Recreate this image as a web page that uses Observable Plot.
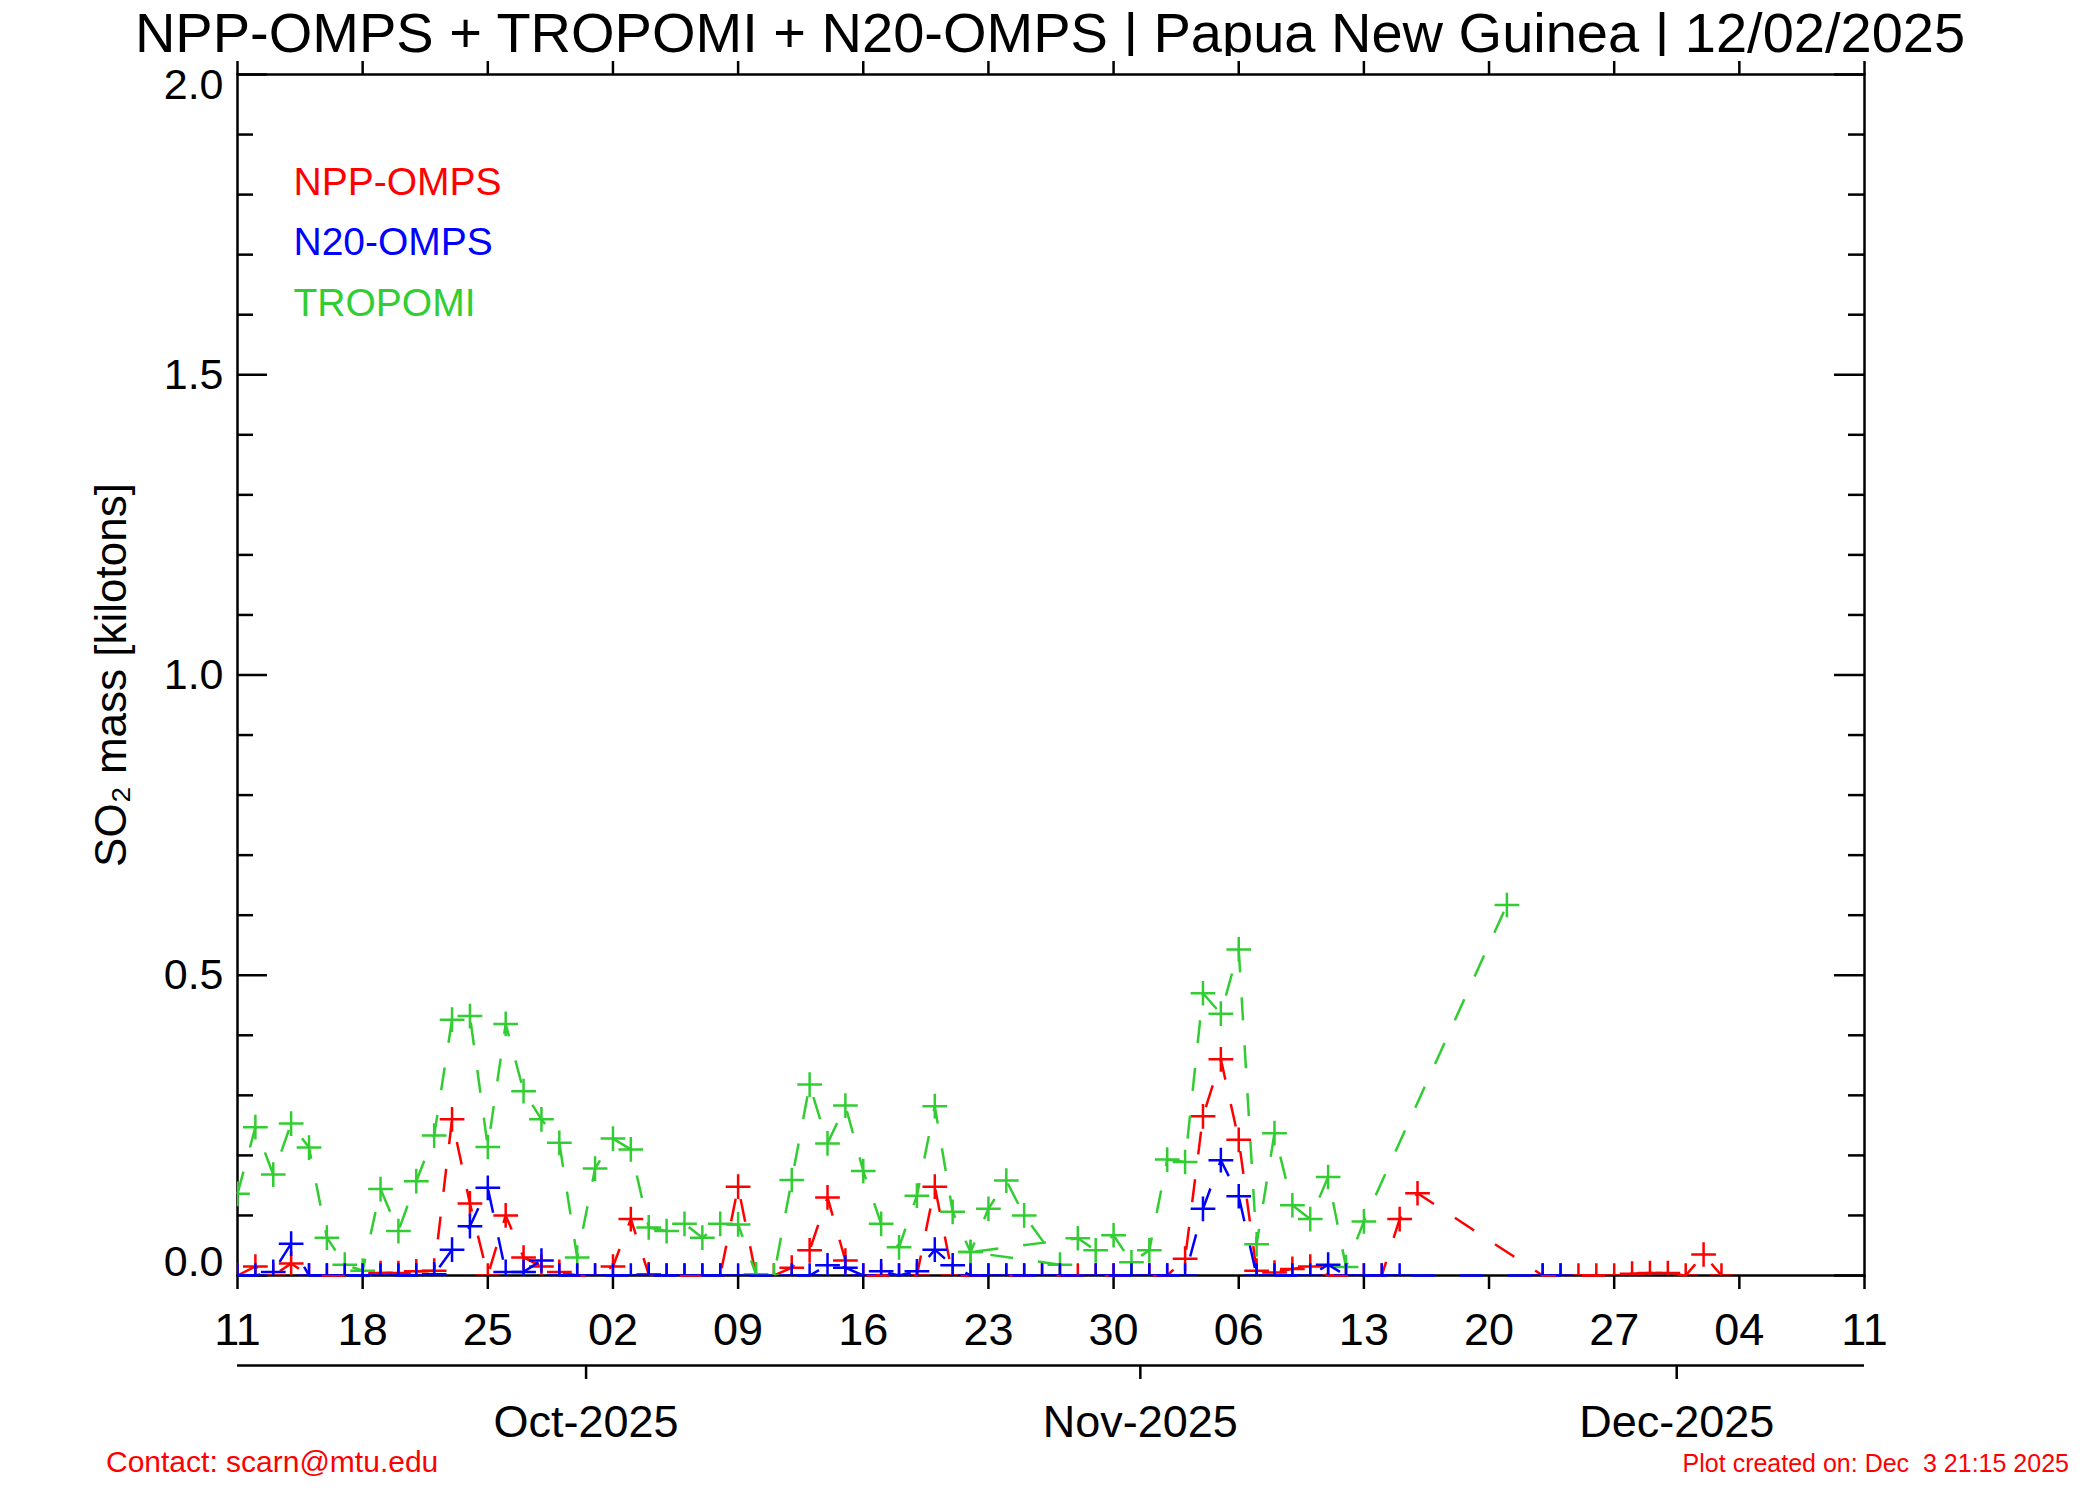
<!DOCTYPE html>
<html>
<head>
<meta charset="utf-8">
<script src="https://cdn.jsdelivr.net/npm/d3@7"></script>
<script src="https://cdn.jsdelivr.net/npm/@observablehq/plot@0.6"></script>
<style>
  body { margin: 0; background: #fff; font-family: "Liberation Sans", Arial, Helvetica, sans-serif; }
  #page { position: relative; width: 2100px; height: 1500px; overflow: hidden; background: #fff; }
  #title { position: absolute; left: 0; top: 5px; width: 2100px; text-align: center; font-size: 56px; line-height: 56px; color: #000; white-space: nowrap; }
  #chart { position: absolute; left: 0; top: 56px; }
  #contact { position: absolute; left: 106px; top: 1447px; font-size: 30px; line-height: 30px; color: #ff0000; white-space: nowrap; }
  #created { position: absolute; right: 31px; top: 1451px; font-size: 25px; line-height: 25px; color: #ff0000; white-space: pre; }
</style>
</head>
<body>
<div id="page">
  <div id="title"></div>
  <div id="chart"></div>
  <div id="contact"></div>
  <div id="created"></div>
</div>
<script>
// ---------------- data ----------------
const titleText = "NPP-OMPS + TROPOMI + N20-OMPS | Papua New Guinea | 12/02/2025";
const contactText = "Contact: scarn@mtu.edu";
const createdText = "Plot created on: Dec  3 21:15 2025";
const yAxisLabel = "SO\u2082 mass [kilotons]";

const legendLabels = ["NPP-OMPS", "N20-OMPS", "TROPOMI"];
const legendColors = ["#ff0000", "#0000ff", "#32cd32"];

const xDomain = ["2025-09-11", "2025-12-11"];
const weekTickDates = ["2025-09-11","2025-09-18","2025-09-25","2025-10-02","2025-10-09","2025-10-16","2025-10-23",
  "2025-10-30","2025-11-06","2025-11-13","2025-11-20","2025-11-27","2025-12-04","2025-12-11"];
const monthTickDates = ["2025-10-01","2025-11-01","2025-12-01"];
const yLabelTicks = [0.0, 0.5, 1.0, 1.5, 2.0];
const yMinorTicks = [0.1,0.2,0.3,0.4,0.6,0.7,0.8,0.9,1.1,1.2,1.3,1.4,1.6,1.7,1.8,1.9];

// NPP-OMPS (red)
const nppDates = ["2025-09-11","2025-09-12","2025-09-13","2025-09-14","2025-09-15","2025-09-16","2025-09-17","2025-09-18",
  "2025-09-19","2025-09-20","2025-09-21","2025-09-22","2025-09-23","2025-09-24","2025-09-25","2025-09-26","2025-09-27",
  "2025-09-28","2025-09-29","2025-09-30","2025-10-01","2025-10-02","2025-10-03","2025-10-04","2025-10-05","2025-10-06",
  "2025-10-07","2025-10-08","2025-10-09","2025-10-10","2025-10-11","2025-10-12","2025-10-13","2025-10-14","2025-10-15",
  "2025-10-16","2025-10-17","2025-10-18","2025-10-19","2025-10-20","2025-10-21","2025-10-22","2025-10-23","2025-10-24",
  "2025-10-25","2025-10-26","2025-10-27","2025-10-28","2025-10-29","2025-10-30","2025-10-31","2025-11-01","2025-11-02",
  "2025-11-03","2025-11-04","2025-11-05","2025-11-06","2025-11-07","2025-11-08","2025-11-09","2025-11-10","2025-11-11",
  "2025-11-12","2025-11-13","2025-11-14","2025-11-15","2025-11-16","2025-11-23","2025-11-24","2025-11-25","2025-11-26",
  "2025-11-27","2025-11-28","2025-11-29","2025-11-30","2025-12-01","2025-12-02","2025-12-03"];
const nppValues = [0, 0.015, 0, 0.02, 0, 0, 0, 0,
  0.004, 0.004, 0.007, 0.008, 0.26, 0.12, 0, 0.10, 0.03,
  0.015, 0.006, 0, 0, 0.015, 0.094, 0.002, 0, 0,
  0, 0, 0.148, 0, 0, 0.013, 0.042, 0.13, 0.025,
  0, 0, 0, 0, 0.148, 0, 0, 0, 0,
  0, 0, 0, 0, 0, 0, 0, 0, 0,
  0.028, 0.265, 0.36, 0.226, 0.008, 0.005, 0.011, 0.015, 0,
  0, 0, 0, 0.094, 0.137, 0, 0, 0, 0,
  0, 0.003, 0.004, 0.004, 0, 0.035, 0];

// N20-OMPS (blue)
const n20Dates = ["2025-09-11","2025-09-12","2025-09-13","2025-09-14","2025-09-15","2025-09-16","2025-09-17","2025-09-18",
  "2025-09-19","2025-09-20","2025-09-21","2025-09-22","2025-09-23","2025-09-24","2025-09-25","2025-09-26","2025-09-27",
  "2025-09-28","2025-09-29","2025-09-30","2025-10-01","2025-10-02","2025-10-03","2025-10-04","2025-10-05","2025-10-06",
  "2025-10-07","2025-10-08","2025-10-09","2025-10-12","2025-10-13","2025-10-14","2025-10-15","2025-10-16","2025-10-17",
  "2025-10-18","2025-10-19","2025-10-20","2025-10-21","2025-10-22","2025-10-23","2025-10-24","2025-10-25","2025-10-26",
  "2025-10-27","2025-10-29","2025-10-30","2025-10-31","2025-11-01","2025-11-02","2025-11-03","2025-11-04","2025-11-05",
  "2025-11-06","2025-11-07","2025-11-08","2025-11-09","2025-11-10","2025-11-11","2025-11-12","2025-11-13","2025-11-14",
  "2025-11-15","2025-11-23","2025-11-24"];
const n20Values = [0, 0, 0.006, 0.053, 0, 0, 0, 0,
  0, 0, 0, 0.002, 0.043, 0.082, 0.146, 0.006, 0.006,
  0.025, 0, 0, 0, 0, 0, 0, 0, 0,
  0, 0, 0, 0, 0, 0.017, 0.013, 0, 0.007,
  0, 0.007, 0.043, 0.017, 0, 0, 0, 0, 0,
  0, 0, 0, 0, 0, 0, 0, 0.111, 0.192,
  0.132, 0, 0, 0, 0, 0.018, 0, 0, 0,
  0, 0, 0];

// TROPOMI (green) - in plotting order as drawn in the source
const tropomiDates = ["2025-09-11","2025-09-12","2025-09-13","2025-09-14","2025-09-15","2025-09-16","2025-09-17","2025-09-18",
  "2025-09-19","2025-09-20","2025-09-21","2025-09-22","2025-09-23","2025-09-24","2025-09-25","2025-09-26","2025-09-27",
  "2025-09-28","2025-09-29","2025-09-30","2025-10-01","2025-10-02","2025-10-03","2025-10-04","2025-10-05","2025-10-06",
  "2025-10-07","2025-10-08","2025-10-09","2025-10-10","2025-10-11","2025-10-12","2025-10-13","2025-10-14","2025-10-15",
  "2025-10-16","2025-10-17","2025-10-18","2025-10-19","2025-10-20","2025-10-21","2025-10-22","2025-10-23","2025-10-24",
  "2025-10-25","2025-10-27","2025-10-22","2025-10-28","2025-10-29","2025-10-30","2025-10-31","2025-11-01","2025-11-02",
  "2025-11-03","2025-11-04","2025-11-05","2025-11-06","2025-11-07","2025-11-08","2025-11-09","2025-11-10","2025-11-11",
  "2025-11-12","2025-11-13","2025-11-21"];
const tropomiValues = [0.136, 0.247, 0.168, 0.253, 0.213, 0.063, 0.018, 0.008,
  0.144, 0.074, 0.157, 0.233, 0.426, 0.432, 0.214, 0.419, 0.307,
  0.26, 0.221, 0.03, 0.178, 0.228, 0.21, 0.08, 0.074, 0.086,
  0.063, 0.086, 0.085, 0.002, 0, 0.159, 0.318, 0.22, 0.283,
  0.174, 0.086, 0.047, 0.133, 0.282, 0.106, 0.039, 0.111, 0.158,
  0.1, 0.018, 0.039, 0.062, 0.042, 0.067, 0.022, 0.042, 0.193,
  0.189, 0.47, 0.436, 0.543, 0.052, 0.237, 0.117, 0.094, 0.164,
  0.014, 0.09, 0.617];

// ---------------- build ----------------
document.getElementById("title").textContent = titleText;
document.getElementById("contact").textContent = contactText;
document.getElementById("created").textContent = createdText;

const parse = d3.utcParse("%Y-%m-%d");
const toRows = (dates, values) => dates.map((d, i) => ({date: parse(d), value: values[i]}));
const npp = toRows(nppDates, nppValues);
const n20 = toRows(n20Dates, n20Values);
const tropomi = toRows(tropomiDates, tropomiValues);
const weekTicks = weekTickDates.map(parse);
const monthTicks = monthTickDates.map(parse);

const W = 2100, H = 1444, mL = 237, mR = 236, mT = 18, mB = 225;
const frameW = W - mL - mR;
const font = "Liberation Sans, Arial, Helvetica, sans-serif";
const lw = 2.5;
const dash = "23,25";

function series(rows, color) {
  return [
    Plot.line(rows, {x: "date", y: "value", stroke: color, strokeWidth: lw, strokeDasharray: dash,
      strokeLinecap: "butt", strokeLinejoin: "miter"}),
    Plot.dot(rows, {x: "date", y: "value", symbol: "plus", r: 8, stroke: color, strokeWidth: lw,
      strokeLinecap: "butt", clip: true})
  ];
}

const legendMarks = legendLabels.map((lab, i) =>
  Plot.text([lab], {frameAnchor: "top-left", dx: 56, dy: 120 + 60.5 * i, fill: legendColors[i],
    fontSize: 39, textAnchor: "start", lineAnchor: "bottom"}));

const chart = Plot.plot({
  width: W, height: H,
  marginLeft: mL, marginRight: mR, marginTop: mT, marginBottom: mB,
  style: {fontFamily: font, background: "white", color: "black", overflow: "visible"},
  x: {type: "utc", domain: xDomain.map(parse), axis: null, label: null},
  y: {domain: [0, 2], axis: null, label: null},
  marks: [
    Plot.frame({stroke: "black", strokeWidth: lw}),
    // y ticks (inward) left & right
    Plot.tickY(yMinorTicks, {y: d => d, stroke: "black", strokeWidth: lw, insetRight: frameW - 16}),
    Plot.tickY(yMinorTicks, {y: d => d, stroke: "black", strokeWidth: lw, insetLeft: frameW - 16}),
    Plot.tickY(yLabelTicks, {y: d => d, stroke: "black", strokeWidth: lw, insetRight: frameW - 30}),
    Plot.tickY(yLabelTicks, {y: d => d, stroke: "black", strokeWidth: lw, insetLeft: frameW - 30}),
    // y tick labels
    Plot.text(yLabelTicks.filter(v => v > 0 && v < 2), {y: d => d, text: d => d.toFixed(1), frameAnchor: "left",
      dx: -14, textAnchor: "end", lineAnchor: "middle", fontSize: 43}),
    Plot.text(yLabelTicks.filter(v => v === 2), {y: d => d, text: d => d.toFixed(1), frameAnchor: "left",
      dx: -14, dy: 11, textAnchor: "end", lineAnchor: "middle", fontSize: 43}),
    Plot.text(yLabelTicks.filter(v => v === 0), {y: d => d, text: d => d.toFixed(1), frameAnchor: "left",
      dx: -14, dy: -13, textAnchor: "end", lineAnchor: "middle", fontSize: 43}),
    // y axis title
    Plot.text([yAxisLabel], {frameAnchor: "left", dx: -126, rotate: -90, fontSize: 44,
      textAnchor: "middle", lineAnchor: "middle"}),
    // x axes
    Plot.axisX({anchor: "top", ticks: weekTicks, tickSize: 14, tickFormat: () => "", strokeWidth: lw, label: null}),
    Plot.axisX({anchor: "bottom", ticks: weekTicks, tickSize: 14, tickPadding: 24, tickFormat: d3.utcFormat("%d"),
      fontSize: 45, strokeWidth: lw, label: null}),
    Plot.ruleY([0], {dy: 90, stroke: "black", strokeWidth: lw}),
    Plot.axisX({anchor: "bottom", ticks: monthTicks, tickSize: 14, dy: 90, dx: -9, tickPadding: 26,
      tickFormat: d3.utcFormat("%b-%Y"), fontSize: 45, strokeWidth: lw, label: null}),
    // data
    ...series(npp, legendColors[0]),
    ...series(tropomi, legendColors[2]),
    ...series(n20, legendColors[1]),
    // legend
    ...legendMarks
  ]
});
document.getElementById("chart").appendChild(chart);
</script>
</body>
</html>
